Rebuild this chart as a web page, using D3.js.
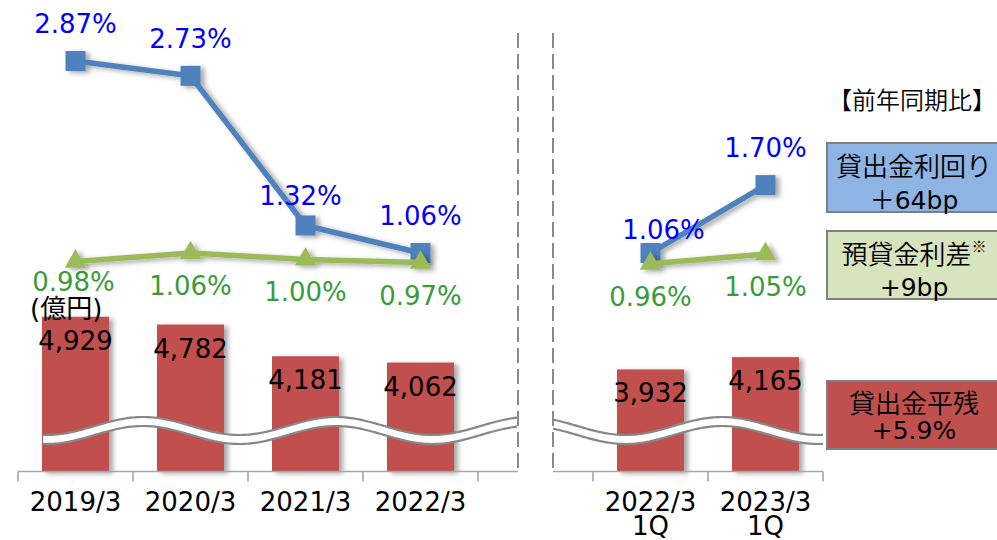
<!DOCTYPE html>
<html lang="ja">
<head>
<meta charset="UTF-8">
<title>貸出金利回り・預貸金利差・貸出金平残</title>
<script src="https://d3js.org/d3.v7.min.js"></script>
<style>
  body { margin: 0; background: #fff; }
  text { font-family: "DejaVu Sans", "Noto Sans CJK JP", sans-serif; }
  text.jp { font-family: "Noto Sans CJK JP", sans-serif; font-weight: 350; }
</style>
</head>
<body>
<script>
// categories ("" = empty slot between the yearly part and the 1Q part)
var categories = ["2019/3", "2020/3", "2021/3", "2022/3", "", "2022/3\n1Q", "2023/3\n1Q"];
// 貸出金平残 (億円)
var loanBalance = [4929, 4782, 4181, 4062, null, 3932, 4165];
// 貸出金利回り (%)
var loanYield = [2.87, 2.73, 1.32, 1.06, null, 1.06, 1.70];
// 預貸金利差 (%)
var spread = [0.98, 1.06, 1.00, 0.97, null, 0.96, 1.05];
// 前年同期比
var boxTitle = "【前年同期比】";
var boxLines = [["貸出金利回り", "＋64bp"], ["預貸金利差", "+9bp"], ["貸出金平残", "+5.9%"]];

var width = 997, height = 540;
var base = 471.5;

var svg = d3.select("body").append("svg")
  .attr("width", width)
  .attr("height", height);

// drop shadow like the office chart
var defs = svg.append("defs");
var f = defs.append("filter").attr("id", "shadow")
  .attr("x", "-20%").attr("y", "-20%").attr("width", "150%").attr("height", "150%");
f.append("feDropShadow").attr("dx", 4).attr("dy", 2).attr("stdDeviation", 2.5)
  .attr("flood-color", "#000").attr("flood-opacity", 0.35);

var x = d3.scaleBand()
  .domain(d3.range(categories.length))
  .range([18, 823]);

var yBar = d3.scaleLinear().domain([2000, 5000]).range([base, 313]);
var yPct = d3.scaleLinear().domain([0, 3]).range([365.5, 47.2]);

var barW = 67;
var cx = function(i) { return x(i) + x.bandwidth() / 2; };

// bars
var bars = svg.append("g").attr("filter", "url(#shadow)");
loanBalance.forEach(function(v, i) {
  if (v == null) return;
  bars.append("rect")
    .attr("x", cx(i) - barW / 2)
    .attr("y", yBar(v))
    .attr("width", barW)
    .attr("height", base - yBar(v))
    .attr("fill", "#C0504D");
});

// axis break wave
function waveY(px) { return 426 - 9 * Math.cos(2 * Math.PI * (px - 143) / 193); }
function drawWave(x0, x1) {
  var pts = d3.range(x0, x1 + 0.1, 2);
  var top = pts.map(function(p) { return [p, waveY(p)]; });
  var bot = pts.map(function(p) { return [p, waveY(p) + 9]; });
  var line = d3.line();
  svg.append("path")
    .attr("d", line(top.concat(bot.slice().reverse())) + "Z")
    .attr("fill", "#fff");
  svg.append("path").attr("d", line(top)).attr("fill", "none")
    .attr("stroke", "#888").attr("stroke-width", 2.2);
  svg.append("path").attr("d", line(bot)).attr("fill", "none")
    .attr("stroke", "#888").attr("stroke-width", 2.2);
}
drawWave(43, 518);
drawWave(553, 823);

// bar value labels
loanBalance.forEach(function(v, i) {
  if (v == null) return;
  svg.append("text")
    .attr("x", cx(i))
    .attr("y", yBar(v) + 24)
    .attr("text-anchor", "middle")
    .attr("dominant-baseline", "central")
    .attr("font-size", 26)
    .attr("fill", "#000")
    .text(d3.format(",")(v));
});

// x axis: two pieces, gap between the dashed lines
var gapL = 518, gapR = 553;
var axis = svg.append("g").attr("stroke", "#a6a6a6").attr("stroke-width", 1.6);
axis.append("line").attr("x1", x(0)).attr("x2", gapL).attr("y1", base).attr("y2", base);
axis.append("line").attr("x1", gapR).attr("x2", x.range()[1]).attr("y1", base).attr("y2", base);
var tickX = categories.map(function(c, i) { return x(i); }).concat([x.range()[1]]);
tickX.forEach(function(t) {
  if (t > gapL && t < gapR) return;
  axis.append("line").attr("x1", t).attr("x2", t).attr("y1", base).attr("y2", base + 10);
});

categories.forEach(function(c, i) {
  if (!c) return;
  var t = svg.append("text")
    .attr("x", cx(i))
    .attr("y", 502)
    .attr("text-anchor", "middle")
    .attr("dominant-baseline", "central")
    .attr("font-size", 26)
    .attr("fill", "#000");
  c.split("\n").forEach(function(s, k) {
    t.append("tspan").attr("x", cx(i)).attr("dy", k ? 24 : 0).text(s);
  });
});

// dashed separators
[gapL, gapR].forEach(function(gx) {
  svg.append("line")
    .attr("x1", gx).attr("x2", gx).attr("y1", 33).attr("y2", base)
    .attr("stroke", "#8a8a8a").attr("stroke-width", 2)
    .attr("stroke-dasharray", "15,6");
});

// lines
var series = [
  {key: "yield", values: loanYield, color: "#4F81BD", text: "#0000FF", dy: -37},
  {key: "spread", values: spread, color: "#9BBB59", text: "#3A9B3A", dy: 33}
];
// small label nudges where labels would collide
var nudge = {"yield-2": [-5, 8], "yield-5": [13, 14], "spread-0": [-2, -13]};

var line = d3.line()
  .defined(function(d) { return d != null; })
  .x(function(d, i) { return cx(i); })
  .y(function(d) { return yPct(d); });

series.forEach(function(s) {
  var g = svg.append("g").attr("filter", "url(#shadow)");
  g.append("path")
    .attr("d", line(s.values))
    .attr("fill", "none")
    .attr("stroke", s.color)
    .attr("stroke-width", 5.5);
  s.values.forEach(function(v, i) {
    if (v == null) return;
    if (s.key == "yield") {
      g.append("rect")
        .attr("x", cx(i) - 10).attr("y", yPct(v) - 10)
        .attr("width", 20).attr("height", 20)
        .attr("fill", s.color);
    } else {
      g.append("path")
        .attr("d", d3.symbol(d3.symbolTriangle, 200)())
        .attr("transform", "translate(" + cx(i) + "," + yPct(v) + ")")
        .attr("fill", s.color);
    }
  });
});

series.forEach(function(s) {
  s.values.forEach(function(v, i) {
    if (v == null) return;
    var n = nudge[s.key + "-" + i] || [0, 0];
    svg.append("text")
      .attr("x", cx(i) + n[0])
      .attr("y", yPct(v) + s.dy + n[1])
      .attr("text-anchor", "middle")
      .attr("dominant-baseline", "central")
      .attr("font-size", 26)
      .attr("fill", s.text)
      .text(v.toFixed(2) + "%");
  });
});

// unit
svg.append("text")
  .attr("x", 30).attr("y", 309)
  .attr("dominant-baseline", "central")
  .attr("font-size", 26)
  .attr("fill", "#000")
  .text("(億円)");

// right side summary
svg.append("text")
  .attr("class", "jp")
  .attr("x", 912).attr("y", 98)
  .attr("text-anchor", "middle")
  .attr("dominant-baseline", "central")
  .attr("font-size", 24)
  .attr("fill", "#000")
  .text(boxTitle);

var boxes = [
  {y: 143, h: 69, fill: "#8DB4E2", l1: 21, l2: 57},
  {y: 231, h: 68, fill: "#D7E4BD", l1: 21, l2: 56},
  {y: 381, h: 68, fill: "#C0504D", l1: 20, l2: 49}
];
boxes.forEach(function(b, i) {
  svg.append("rect")
    .attr("x", 827).attr("y", b.y)
    .attr("width", 176).attr("height", b.h)
    .attr("fill", b.fill)
    .attr("stroke", "#7f7f7f").attr("stroke-width", 2);
  var t1 = svg.append("text")
    .attr("class", "jp")
    .attr("x", 914).attr("y", b.y + b.l1)
    .attr("text-anchor", "middle")
    .attr("dominant-baseline", "central")
    .attr("font-size", 26)
    .attr("fill", "#000")
    .text(boxLines[i][0]);
  if (i == 1) {
    t1.append("tspan").attr("font-size", 15).attr("dy", -7).text("※");
  }
  svg.append("text")
    .attr("x", 914).attr("y", b.y + b.l2)
    .attr("text-anchor", "middle")
    .attr("dominant-baseline", "central")
    .attr("font-size", 25)
    .attr("fill", "#000")
    .text(boxLines[i][1]);
});
</script>
</body>
</html>
